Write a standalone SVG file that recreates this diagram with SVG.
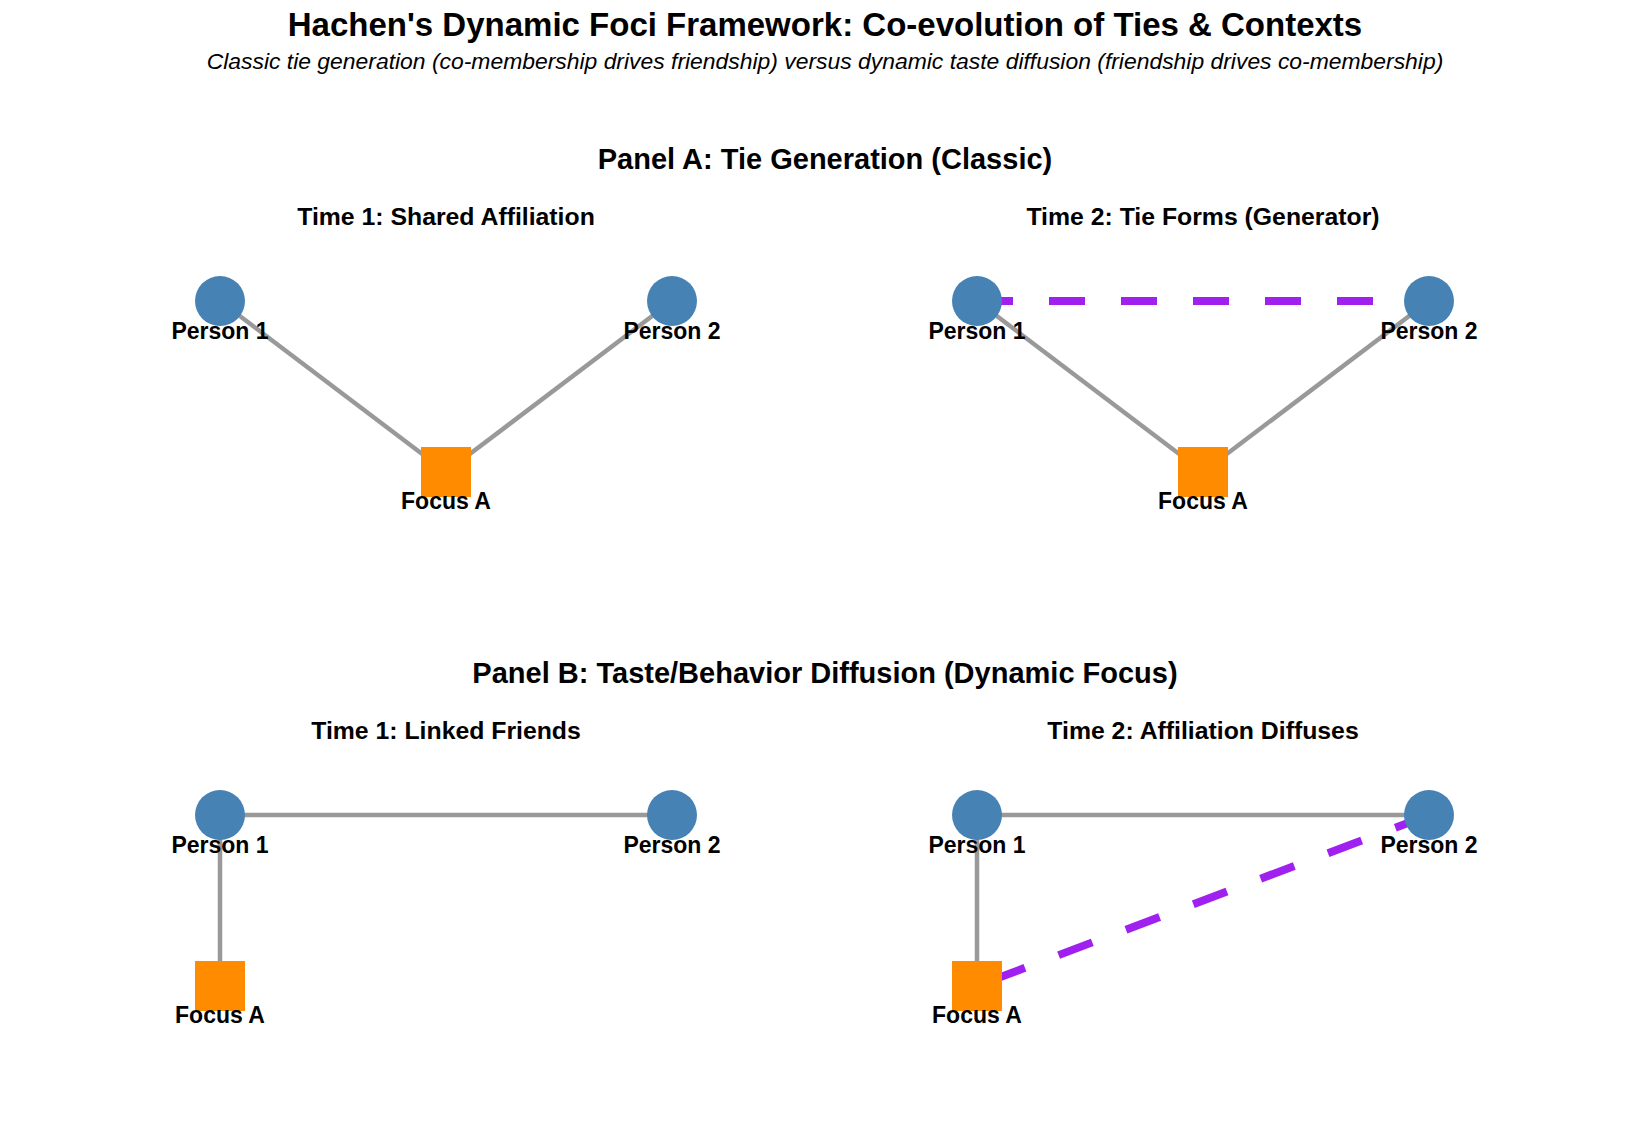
<svg xmlns="http://www.w3.org/2000/svg" width="1650" height="1125" viewBox="0 0 1650 1125">
<style>
text{font-family:"Liberation Sans",Arial,sans-serif;fill:#000;text-anchor:middle}
.title{font-size:33px;font-weight:bold}
.sub{font-size:22.9px;font-style:italic}
.panel{font-size:29px;font-weight:bold}
.time{font-size:24.8px;font-weight:bold}
.lbl{font-size:23px;font-weight:bold}
.e{stroke:#999999;stroke-width:4.5;fill:none}
.d{stroke:#a020f0;stroke-width:8;stroke-dasharray:36 36;fill:none}
.p{fill:#4682b4}
.f{fill:#ff8c00}
</style>
<rect width="1650" height="1125" fill="#ffffff"/>
<text class="title" x="825" y="36">Hachen's Dynamic Foci Framework: Co-evolution of Ties &amp; Contexts</text>
<text class="sub" x="825" y="69">Classic tie generation (co-membership drives friendship) versus dynamic taste diffusion (friendship drives co-membership)</text>
<text class="panel" x="825" y="169">Panel A: Tie Generation (Classic)</text>
<text class="time" x="446" y="225">Time 1: Shared Affiliation</text>
<text class="time" x="1203" y="225">Time 2: Tie Forms (Generator)</text>
<text class="panel" x="825" y="683">Panel B: Taste/Behavior Diffusion (Dynamic Focus)</text>
<text class="time" x="446" y="739">Time 1: Linked Friends</text>
<text class="time" x="1203" y="739">Time 2: Affiliation Diffuses</text>
<g id="connectors">
<line class="e" x1="220" y1="301" x2="446" y2="472"/>
<line class="e" x1="672" y1="301" x2="446" y2="472"/>
<line class="e" x1="977" y1="301" x2="1203" y2="472"/>
<line class="e" x1="1429" y1="301" x2="1203" y2="472"/>
<line class="d" x1="977" y1="301" x2="1429" y2="301"/>
<line class="e" x1="220" y1="815" x2="672" y2="815"/>
<line class="e" x1="220" y1="815" x2="220" y2="986"/>
<line class="e" x1="977" y1="815" x2="1429" y2="815"/>
<line class="e" x1="977" y1="815" x2="977" y2="986"/>
<line class="d" x1="1429" y1="815" x2="977" y2="986"/>
</g>
<g id="a1-person1"><circle class="p" cx="220" cy="301" r="25"/><text class="lbl" x="220" y="339">Person 1</text></g>
<g id="a1-person2"><circle class="p" cx="672" cy="301" r="25"/><text class="lbl" x="672" y="339">Person 2</text></g>
<g id="a1-focusA"><rect class="f" x="421" y="447" width="50" height="50"/><text class="lbl" x="446" y="509">Focus A</text></g>
<g id="a2-person1"><circle class="p" cx="977" cy="301" r="25"/><text class="lbl" x="977" y="339">Person 1</text></g>
<g id="a2-person2"><circle class="p" cx="1429" cy="301" r="25"/><text class="lbl" x="1429" y="339">Person 2</text></g>
<g id="a2-focusA"><rect class="f" x="1178" y="447" width="50" height="50"/><text class="lbl" x="1203" y="509">Focus A</text></g>
<g id="b1-person1"><circle class="p" cx="220" cy="815" r="25"/><text class="lbl" x="220" y="853">Person 1</text></g>
<g id="b1-person2"><circle class="p" cx="672" cy="815" r="25"/><text class="lbl" x="672" y="853">Person 2</text></g>
<g id="b1-focusA"><rect class="f" x="195" y="961" width="50" height="50"/><text class="lbl" x="220" y="1023">Focus A</text></g>
<g id="b2-person1"><circle class="p" cx="977" cy="815" r="25"/><text class="lbl" x="977" y="853">Person 1</text></g>
<g id="b2-person2"><circle class="p" cx="1429" cy="815" r="25"/><text class="lbl" x="1429" y="853">Person 2</text></g>
<g id="b2-focusA"><rect class="f" x="952" y="961" width="50" height="50"/><text class="lbl" x="977" y="1023">Focus A</text></g>
</svg>
